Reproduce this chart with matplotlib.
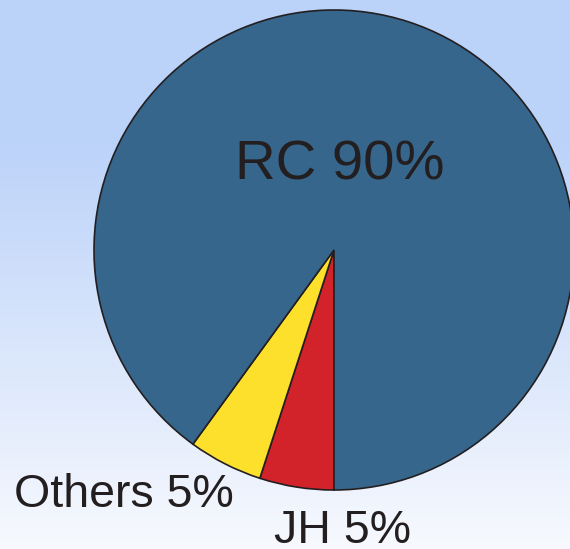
import numpy as np
import matplotlib.pyplot as plt
from matplotlib.colors import to_rgb

# slice data, clockwise from straight down
labels = ["JH 5%", "Others 5%", "RC 90%"]
shares = [5, 5, 90]
colors = ["#d2232a", "#fde02b", "#37668c"]

W, H = 570, 549
fig = plt.figure(figsize=(W / 100, H / 100), dpi=100)
ax = fig.add_axes([0, 0, 1, 1])

# background: light blue at the top fading to near white at the bottom
top = np.array(to_rgb("#bbd2f9"))
bottom = np.array(to_rgb("#f7f9fe"))
t = np.clip((np.linspace(0, 1, H) - 0.25) / 0.75, 0, 1)[:, None]
grad = top * (1 - t) + bottom * t
ax.imshow(grad[:, None, :], extent=[0, W, 0, H], aspect="auto", origin="upper", zorder=0)

ax.pie(shares, colors=colors, startangle=-90, counterclock=False,
       center=(334, 299), radius=240, frame=True,
       wedgeprops=dict(edgecolor="#231f20", linewidth=1.2, zorder=2))

txt = dict(family=["Liberation Sans", "DejaVu Sans"], color="#231f20", zorder=5)
ax.text(340, 370, labels[2], ha="center", va="baseline", fontsize=40.5, **txt)
ax.text(124, 42, labels[1], ha="center", va="baseline", fontsize=33.5, **txt)
ax.text(343, 6, labels[0], ha="center", va="baseline", fontsize=33.5, **txt)

ax.set_xlim(0, W)
ax.set_ylim(0, H)
ax.set_aspect("auto")
ax.axis("off")

fig.savefig("out.png", dpi=100)
plt.close(fig)
